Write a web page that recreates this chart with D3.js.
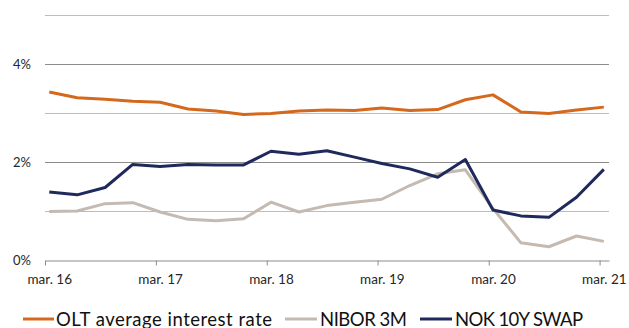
<!DOCTYPE html>
<html><head><meta charset="utf-8">
<script src="https://cdn.jsdelivr.net/npm/d3@7"></script>
<style>body{margin:0;background:#fff}svg{display:block}</style>
</head><body>
<svg id="c" width="629" height="328"></svg>
<script>
const tickYears = [2016, 2017, 2018, 2019, 2020, 2021];
const tickLabels = ["mar. 16", "mar. 17", "mar. 18", "mar. 19", "mar. 20", "mar. 21"];
const quarters = ["2016-03","2016-06","2016-09","2016-12","2017-03","2017-06","2017-09","2017-12",
  "2018-03","2018-06","2018-09","2018-12","2019-03","2019-06","2019-09","2019-12",
  "2020-03","2020-06","2020-09","2020-12","2021-03"];
const olt = [3.43,3.31,3.28,3.24,3.22,3.08,3.04,2.97,2.99,3.04,3.06,3.05,3.10,3.05,3.07,3.27,3.37,3.02,2.99,3.06,3.12];
const nibor = [0.99,1.00,1.15,1.17,0.98,0.83,0.80,0.84,1.18,0.98,1.11,1.18,1.24,1.52,1.76,1.84,1.05,0.35,0.27,0.49,0.38];
const swap = [1.39,1.33,1.48,1.95,1.91,1.95,1.94,1.94,2.22,2.16,2.23,2.10,1.97,1.86,1.69,2.05,1.02,0.90,0.87,1.28,1.85];
const yTicks = [0,1,2,3,4,5];
const yLabels = {0:"0%",2:"2%",4:"4%"};
const seriesNames = ["OLT average interest rate","NIBOR 3M","NOK 10Y SWAP"];
const colors = ["#D4691E","#C4BAB2","#1F2A5C"];

const svg = d3.select("#c");
const FONT = "Lato, 'Open Sans', sans-serif";
const parseQ = s => { const [yy,m] = s.split("-").map(Number); return new Date(yy, m-1, 15); };
const dates = quarters.map(parseQ);
const x = d3.scaleTime().domain([new Date(2016,2,1), new Date(2021,3,1)]).range([45, 609]);
const y = d3.scaleLinear().domain([0,5]).range([260, 15]);

// gridlines
svg.append("g").selectAll("line").data(yTicks.filter(d=>d>0)).join("line")
  .attr("x1",45).attr("x2",609).attr("y1",d=>y(d)+0.5).attr("y2",d=>y(d)+0.5)
  .attr("stroke", d => yLabels[d] ? "#8c8c8c" : "#bdbdbd").attr("stroke-width",1);

// y labels
svg.append("g").selectAll("text").data(yTicks.filter(d=>yLabels[d])).join("text")
  .attr("x",31).attr("y",d=>y(d)+4.5).attr("text-anchor","end")
  .attr("font-family",FONT).attr("font-size",13).attr("fill","#262626")
  .text(d=>yLabels[d]);

// x axis ticks
const tickDates = tickYears.map(yy => new Date(yy,2,1));
const ax = svg.append("g").attr("transform","translate(0,260.5)")
  .call(d3.axisBottom(x).tickValues(tickDates).tickSize(5).tickSizeOuter(0).tickFormat(""));
ax.select(".domain").attr("stroke","#8c8c8c");
ax.selectAll(".tick line").attr("stroke","#8c8c8c");

// x labels at data dates
const labDates = tickYears.map(yy => new Date(yy,2,15));
const ax2 = svg.append("g").attr("transform","translate(0,271.5)")
  .call(d3.axisBottom(x).tickValues(labDates).tickSize(0).tickFormat((d,i)=>tickLabels[i]));
ax2.select(".domain").remove();
ax2.selectAll("text").attr("font-family",FONT).attr("font-size",13.5).attr("fill","#262626");

// lines
const line = d3.line().x((d,i)=>x(dates[i])).y(d=>y(d));
[[nibor,1],[swap,2],[olt,0]].forEach(([s,ci]) => {
  svg.append("path").datum(s).attr("d",line).attr("fill","none")
    .attr("stroke",colors[ci]).attr("stroke-width",3).attr("stroke-linejoin","round");
});

// legend
const leg = [{x1:23,x2:54,tx:56,w:216},{x1:285,x2:317,tx:320,w:87},{x1:420,x2:452,tx:455,w:128}];
leg.forEach((l,i)=>{
  svg.append("line").attr("x1",l.x1).attr("x2",l.x2).attr("y1",319).attr("y2",319)
    .attr("stroke",colors[i]).attr("stroke-width",3);
  svg.append("text").attr("x",l.tx).attr("y",325.5)
    .attr("font-family",FONT).attr("font-size",18.5).attr("fill","#111")
    .attr("textLength",l.w).attr("lengthAdjust","spacing")
    .text(seriesNames[i]);
});
</script>
</body></html>
